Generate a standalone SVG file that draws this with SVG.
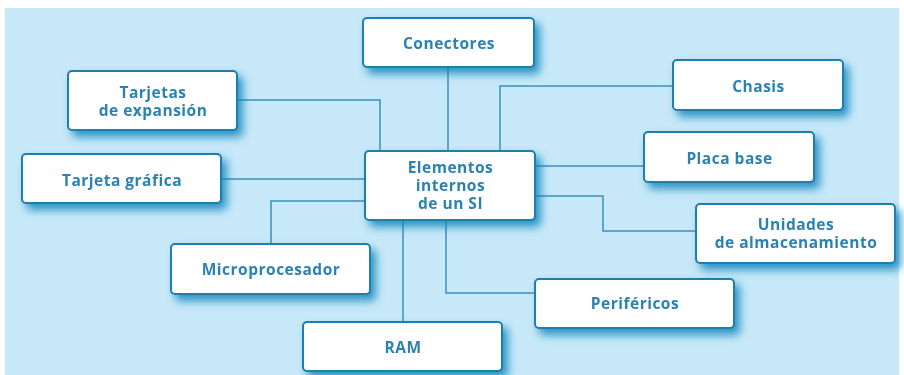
<svg xmlns="http://www.w3.org/2000/svg" width="904" height="375" viewBox="0 0 904 375">
<defs>
<filter id="sh" x="-20%" y="-30%" width="150%" height="180%">
<feGaussianBlur in="SourceAlpha" stdDeviation="4"/>
<feOffset dx="5" dy="6" result="b"/>
<feFlood flood-color="#1286bd" flood-opacity="0.85"/>
<feComposite in2="b" operator="in"/>
<feMerge><feMergeNode/><feMergeNode in="SourceGraphic"/></feMerge>
</filter>
</defs>
<style>
.box{fill:#ffffff;stroke:#1a7fb0;stroke-width:2}
.t{font-family:"Open Sans","Liberation Sans",sans-serif;font-weight:bold;font-size:15.5px;letter-spacing:0.5px;fill:#2a82b2;text-anchor:middle}
.c{fill:none;stroke:#3a90bb;stroke-width:1.5}
</style>
<rect x="0" y="0" width="904" height="375" fill="#ffffff"/>
<rect x="5" y="8" width="894" height="367" fill="#c6e8f8"/>
<g id="connectors">
<polyline class="c" points="237,100 380,100 380,151"/>
<line class="c" x1="448" y1="67" x2="448" y2="151"/>
<polyline class="c" points="673,86 500,86 500,151"/>
<line class="c" x1="221" y1="179" x2="365" y2="179"/>
<polyline class="c" points="365,201 271,201 271,244"/>
<line class="c" x1="535" y1="166" x2="644" y2="166"/>
<polyline class="c" points="535,196 603,196 603,231 696,231"/>
<line class="c" x1="403" y1="220" x2="403" y2="322"/>
<polyline class="c" points="446,220 446,293 535,293"/>
</g>
<g id="n-conectores" filter="url(#sh)"><rect class="box" x="363" y="18" width="171" height="49" rx="4"/><text class="t" x="449" y="48.5">Conectores</text></g>
<g id="n-tarjetas-exp" filter="url(#sh)"><rect class="box" x="68" y="71" width="169" height="59" rx="4"/><text class="t" x="153" y="98">Tarjetas</text><text class="t" x="153" y="115.5">de expansión</text></g>
<g id="n-tarjeta-grafica" filter="url(#sh)"><rect class="box" x="22" y="154" width="199" height="49" rx="4"/><text class="t" x="122" y="185.5">Tarjeta gráfica</text></g>
<g id="n-centro" filter="url(#sh)"><rect class="box" x="365" y="151" width="170" height="69" rx="4"/><text class="t" x="450.5" y="173">Elementos</text><text class="t" x="450.5" y="191">internos</text><text class="t" x="450.5" y="208.5">de un SI</text></g>
<g id="n-chasis" filter="url(#sh)"><rect class="box" x="673" y="60" width="170" height="50" rx="4"/><text class="t" x="758.5" y="91.5">Chasis</text></g>
<g id="n-placa" filter="url(#sh)"><rect class="box" x="644" y="132" width="170" height="50" rx="4"/><text class="t" x="729.5" y="163.5">Placa base</text></g>
<g id="n-unidades" filter="url(#sh)"><rect class="box" x="696" y="204" width="199" height="59" rx="4"/><text class="t" x="796" y="230">Unidades</text><text class="t" x="796" y="247.5">de almacenamiento</text></g>
<g id="n-perifericos" filter="url(#sh)"><rect class="box" x="535" y="279" width="199" height="49" rx="4"/><text class="t" x="635" y="308.5">Periféricos</text></g>
<g id="n-micro" filter="url(#sh)"><rect class="box" x="171" y="244" width="199" height="50" rx="4"/><text class="t" x="271" y="274.5">Microprocesador</text></g>
<g id="n-ram" filter="url(#sh)"><rect class="box" x="303" y="322" width="199" height="49" rx="4"/><text class="t" x="403" y="352.5">RAM</text></g>
</svg>
